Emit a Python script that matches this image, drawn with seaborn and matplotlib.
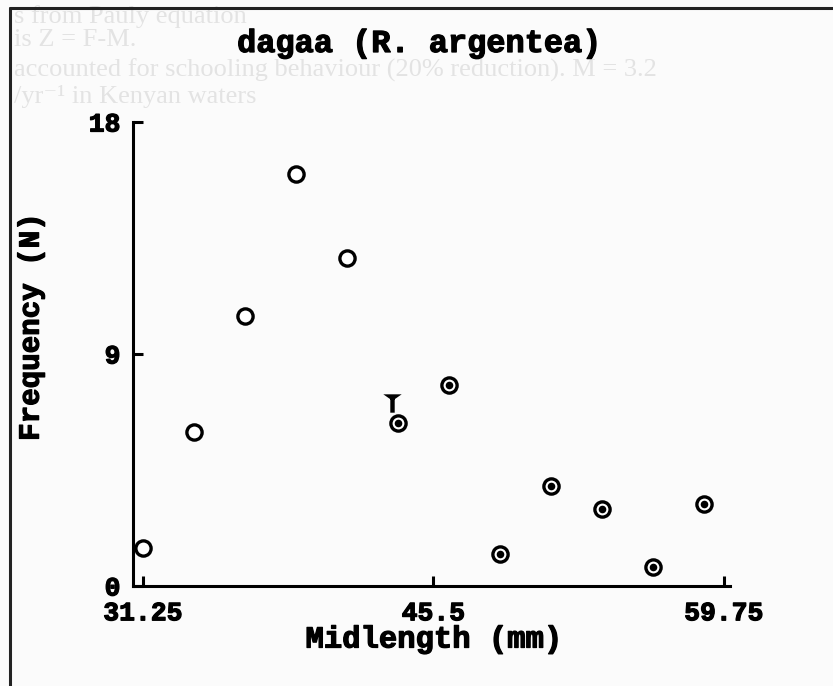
import numpy as np
import pandas as pd
import matplotlib
matplotlib.use("Agg")
import matplotlib.pyplot as plt
import matplotlib.transforms as mtransforms
import matplotlib.patheffects as pe
from matplotlib.path import Path
from matplotlib.lines import Line2D
import seaborn as sns

# Length-frequency data for dagaa (Rastrineobola argentea)
midlength = [31.25, 33.75, 36.25, 38.75, 41.25, 43.75,
             46.25, 48.75, 51.25, 53.75, 56.25, 58.75]
frequency = [1.47, 5.97, 10.47, 15.98, 12.72, 6.32,
             7.80, 1.24, 3.88, 2.99, 0.74, 3.18]
# points used in the catch-curve selection (filled) vs. excluded (open)
selected = [False, False, False, False, False, True,
            True, True, True, True, True, True]

x_ticks = [31.25, 45.5, 59.75]
x_tick_labels = ["31.25", "45.5", "59.75"]
y_ticks = [0, 9, 18]
y_tick_labels = ["0", "9", "18"]

title = "dagaa (R. argentea)"
x_label = "Midlength (mm)"
y_label = "Frequency (N)"

df = pd.DataFrame({"midlength": midlength, "frequency": frequency,
                   "selected": selected})

sns.set_theme(style="white")
plt.rcParams["font.family"] = ["Liberation Mono", "DejaVu Sans Mono"]
plt.rcParams["font.weight"] = "bold"

# heavier strokes for the screen-style lettering
heavy = [pe.withStroke(linewidth=0.9, foreground="black")]

fig = plt.figure(figsize=(8.33, 6.86), dpi=100)
fig.patch.set_facecolor("#fbfbfb")

# faint show-through text of the printed page behind the figure
ghost = dict(family=["Liberation Serif", "DejaVu Serif"], fontsize=19,
             color="#e3e3e3", fontweight="normal", ha="left", va="center",
             zorder=0)
fig.text(14 / 833, 1 - 17 / 686, "s from Pauly equation", **ghost)
fig.text(14 / 833, 1 - 40 / 686, "is Z = F-M.", **ghost)
fig.text(14 / 833, 1 - 70 / 686,
         "accounted for schooling behaviour (20% reduction). M = 3.2", **ghost)
fig.text(14 / 833, 1 - 97 / 686, "/yr\u207b\u00b9 in Kenyan waters", **ghost)

ax = fig.add_axes([133 / 833, 1 - 586 / 686, 597 / 833, 464 / 686])
ax.set_facecolor("none")

# open and filled symbols
sns.scatterplot(data=df, x="midlength", y="frequency", ax=ax,
                marker="o", s=120, facecolor="white", edgecolor="black",
                linewidth=2.4, legend=False, zorder=3)
sns.scatterplot(data=df[df["selected"]], x="midlength", y="frequency", ax=ax,
                marker="o", s=30, color="black", linewidth=0,
                legend=False, zorder=4)

# pointer marking the first point of the descending limb
pin = Path([(-1.0, 1.0), (1.0, 1.0), (0.0, 0.3), (-1.0, 1.0),
            (-0.24, 0.5), (0.24, 0.5), (0.24, -1.0), (-0.24, -1.0), (-0.24, 0.5)],
           [Path.MOVETO, Path.LINETO, Path.LINETO, Path.CLOSEPOLY,
            Path.MOVETO, Path.LINETO, Path.LINETO, Path.LINETO, Path.CLOSEPOLY])
first_sel = df[df["selected"]].iloc[0]
pin_tr = mtransforms.offset_copy(ax.transData, fig=fig, x=-4.5, y=14.5, units="points")
ax.scatter([first_sel["midlength"]], [first_sel["frequency"]], marker=pin,
           s=175, color="black", linewidth=0, transform=pin_tr, zorder=5)

ax.set_xlim(30.76, 60.05)
ax.set_ylim(0, 18)
ax.set_xticks(x_ticks, x_tick_labels)
ax.set_yticks(y_ticks, y_tick_labels)

for side in ["top", "right"]:
    ax.spines[side].set_visible(False)
for side in ["left", "bottom"]:
    ax.spines[side].set_color("black")
    ax.spines[side].set_linewidth(2.2)

ax.tick_params(axis="both", direction="in", length=7, width=2.2,
               color="black", labelcolor="black", labelsize=19)
ax.tick_params(axis="x", pad=11, bottom=True)
ax.tick_params(axis="y", pad=9, left=True)
for lbl in ax.get_xticklabels() + ax.get_yticklabels():
    lbl.set_fontweight("bold")
    lbl.set_path_effects(heavy)

ax.set_xlabel(x_label, fontsize=22, fontweight="bold", color="black",
              path_effects=heavy)
ax.set_ylabel(y_label, fontsize=21, fontweight="bold", color="black",
              path_effects=heavy)
ax.xaxis.set_label_coords(0.503, -0.083)
ax.yaxis.set_label_coords(-0.148, 0.558)

fig.text(420 / 833, 1 - 44 / 686, title, ha="center", va="center",
         fontsize=23, fontweight="bold", color="black", path_effects=heavy)

# page frame
fig.add_artist(Line2D([10 / 833, 10 / 833], [0, 1 - 8 / 686],
                      transform=fig.transFigure, color="#222222", lw=2.2))
fig.add_artist(Line2D([10 / 833, 1], [1 - 8 / 686, 1 - 8 / 686],
                      transform=fig.transFigure, color="#222222", lw=2.2))

fig.savefig("out.png", dpi=100, facecolor=fig.get_facecolor())
